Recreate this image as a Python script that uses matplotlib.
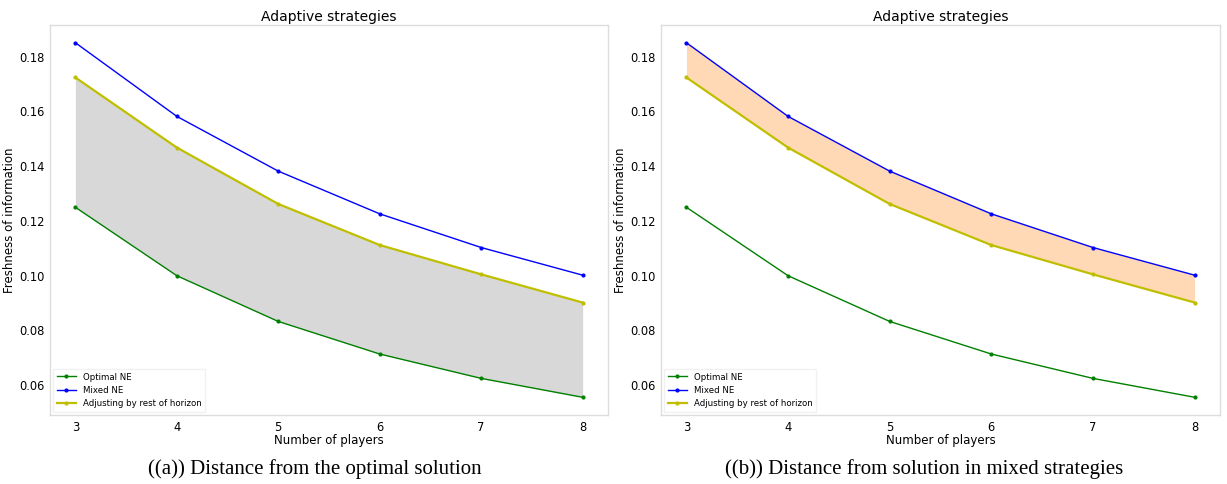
import matplotlib
matplotlib.use('Agg')
import matplotlib.pyplot as plt

players = [3, 4, 5, 6, 7, 8]
optimal_ne = [0.125, 0.1, 0.0833, 0.0714, 0.0625, 0.0556]
mixed_ne = [0.1851, 0.1582, 0.1382, 0.1226, 0.1103, 0.1002]
adjusting = [0.1724, 0.1468, 0.1262, 0.1112, 0.1005, 0.0902]

captions = ['((a)) Distance from the optimal solution',
            '((b)) Distance from solution in mixed strategies']

fig = plt.figure(figsize=(12.27, 4.84), dpi=100)
ax1 = fig.add_axes([50 / 1227, 69 / 484, 558 / 1227, 390 / 484])
ax2 = fig.add_axes([661 / 1227, 69 / 484, 559 / 1227, 390 / 484])


def draw(ax, fill_lo, fill_hi, fill_color):
    ax.plot(players, optimal_ne, 'g.-', lw=1, ms=4, label='Optimal NE')
    ax.plot(players, mixed_ne, 'b.-', lw=1, ms=4, label='Mixed NE')
    ax.plot(players, adjusting, 'y.-', lw=1.6, ms=4, label='Adjusting by rest of horizon')
    ax.fill_between(players, fill_lo, fill_hi, color=fill_color, alpha=0.3, lw=0)
    ax.set_title('Adaptive strategies', fontsize=10, pad=3)
    ax.set_xlabel('Number of players', fontsize=8.5, labelpad=0)
    ax.set_ylabel('Freshness of information', fontsize=8.5, labelpad=2)
    ax.set_yticks([0.06, 0.08, 0.10, 0.12, 0.14, 0.16, 0.18])
    ax.set_xticks(players)
    ax.tick_params(length=0, labelsize=8.3, pad=4)
    for s in ax.spines.values():
        s.set_color('#dddddd')
        s.set_linewidth(1)
    leg = ax.legend(loc='lower left', fontsize=6.2, frameon=True, fancybox=False,
                    borderaxespad=0.4, handlelength=2.2)
    leg.get_frame().set_edgecolor('#eeeeee')


draw(ax1, optimal_ne, adjusting, 'gray')
draw(ax2, adjusting, mixed_ne, 'C1')

fig.text(315 / 1227, 1 - 469 / 484, captions[0], ha='center', va='center',
         fontsize=15, family='Liberation Serif')
fig.text(924 / 1227, 1 - 469 / 484, captions[1], ha='center', va='center',
         fontsize=15, family='Liberation Serif')

fig.savefig('out.png', dpi=100)
